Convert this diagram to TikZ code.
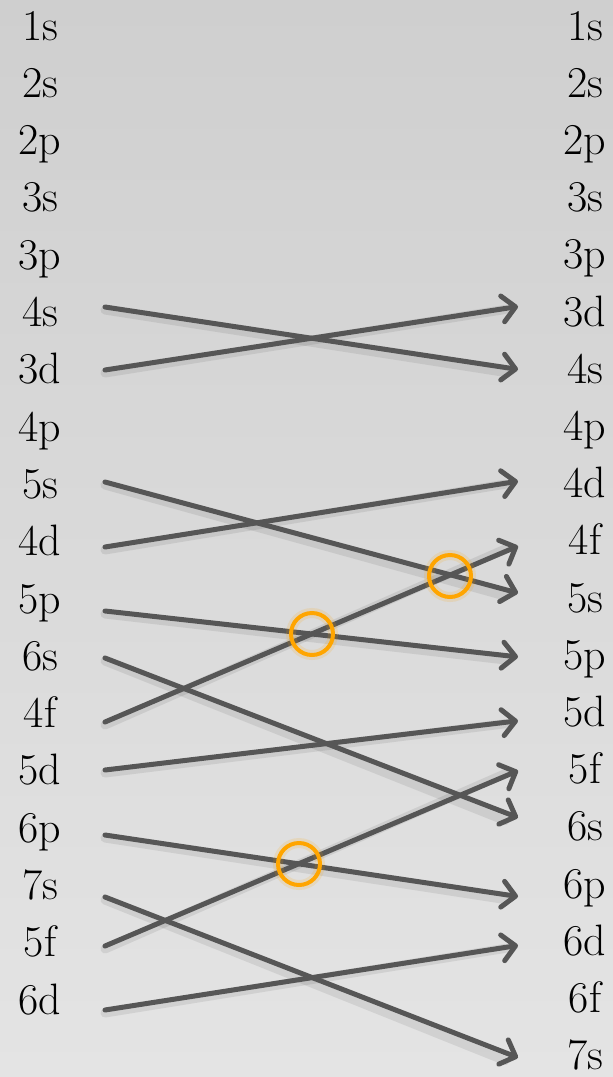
\documentclass[tikz,border=0pt]{standalone}
\usetikzlibrary{arrows.meta}
\definecolor{bgtop}{HTML}{CFCFCF}
\definecolor{bgbot}{HTML}{E4E4E4}
\definecolor{linegray}{HTML}{565656}
\definecolor{ring}{HTML}{FFA500}
\tikzset{
  lab/.style={anchor=base,inner sep=0pt,font=\fontsize{44}{48}\selectfont},
  arr/.style={draw=linegray,line width=5pt,line cap=round,
    -{Straight Barb[length=13pt,width=26pt,line width=5pt,round]}},
  shad/.style={draw=black,opacity=0.08,line width=9pt,line cap=round},
  ringstyle/.style={draw=ring,line width=4pt},
  glow/.style={draw=ring,opacity=0.15,line width=10pt}
}
\begin{document}
\begin{tikzpicture}[x=1pt,y=-1pt]
\shade[top color=bgtop,bottom color=bgbot] (0,0) rectangle (613,1077);
\useasboundingbox (0,0) rectangle (613,1077);
% left labels
\foreach \t [count=\i from 0] in {1s,2s,2p,3s,3p,4s,3d,4p,5s,4d,5p,6s,4f,5d,6p,7s,5f,6d}
  \node[lab] (L\t) at (40,{40+57.3*\i}) {\t};
% right labels
\foreach \t [count=\i from 0] in {1s,2s,2p,3s,3p,3d,4s,4p,4d,4f,5s,5p,5d,5f,6s,6p,6d,6f,7s}
  \node[lab] (R\t) at (585,{40+57.2*\i}) {\t};
% connectors: shadows
\foreach \a/\da/\b/\db in {4s/-19.5/4s/-13.8, 3d/-13.8/3d/-19.5, 5s/-16.4/5s/-19, 4d/-8.7/4d/-16.4,
  5p/-2/5p/-12.3, 6s/-12.3/6s/-23.2, 4f/-5.6/4f/-8.7, 5d/-14.9/5d/-5.6, 6p/-7.2/6p/-1.5,
  7s/-2.5/7s/-12, 5f/-10.8/5f/-12.9, 6d/-4.1/6d/-9.8}
  \draw[shad] ([shift={(65,\da+3)}]L\a.base) -- ([shift={(-80,\db+3)}]R\b.base);
% connectors
\foreach \a/\da/\b/\db in {4s/-19.5/4s/-13.8, 3d/-13.8/3d/-19.5, 5s/-16.4/5s/-19, 4d/-8.7/4d/-16.4,
  5p/-2/5p/-12.3, 6s/-12.3/6s/-23.2, 4f/-5.6/4f/-8.7, 5d/-14.9/5d/-5.6, 6p/-7.2/6p/-1.5,
  7s/-2.5/7s/-12, 5f/-10.8/5f/-12.9, 6d/-4.1/6d/-9.8}
  \draw[arr] ([shift={(65,\da)}]L\a.base) -- ([shift={(-67,\db)}]R\b.base);
% highlight rings
\foreach \n/\x/\y in {c1/450/576, c2/312/634, c3/299/864}{
  \draw[glow] (\x,\y) circle[radius=21pt];
  \node[circle,ringstyle,minimum size=42pt,inner sep=0pt] (\n) at (\x,\y) {};
}
\end{tikzpicture}
\end{document}
